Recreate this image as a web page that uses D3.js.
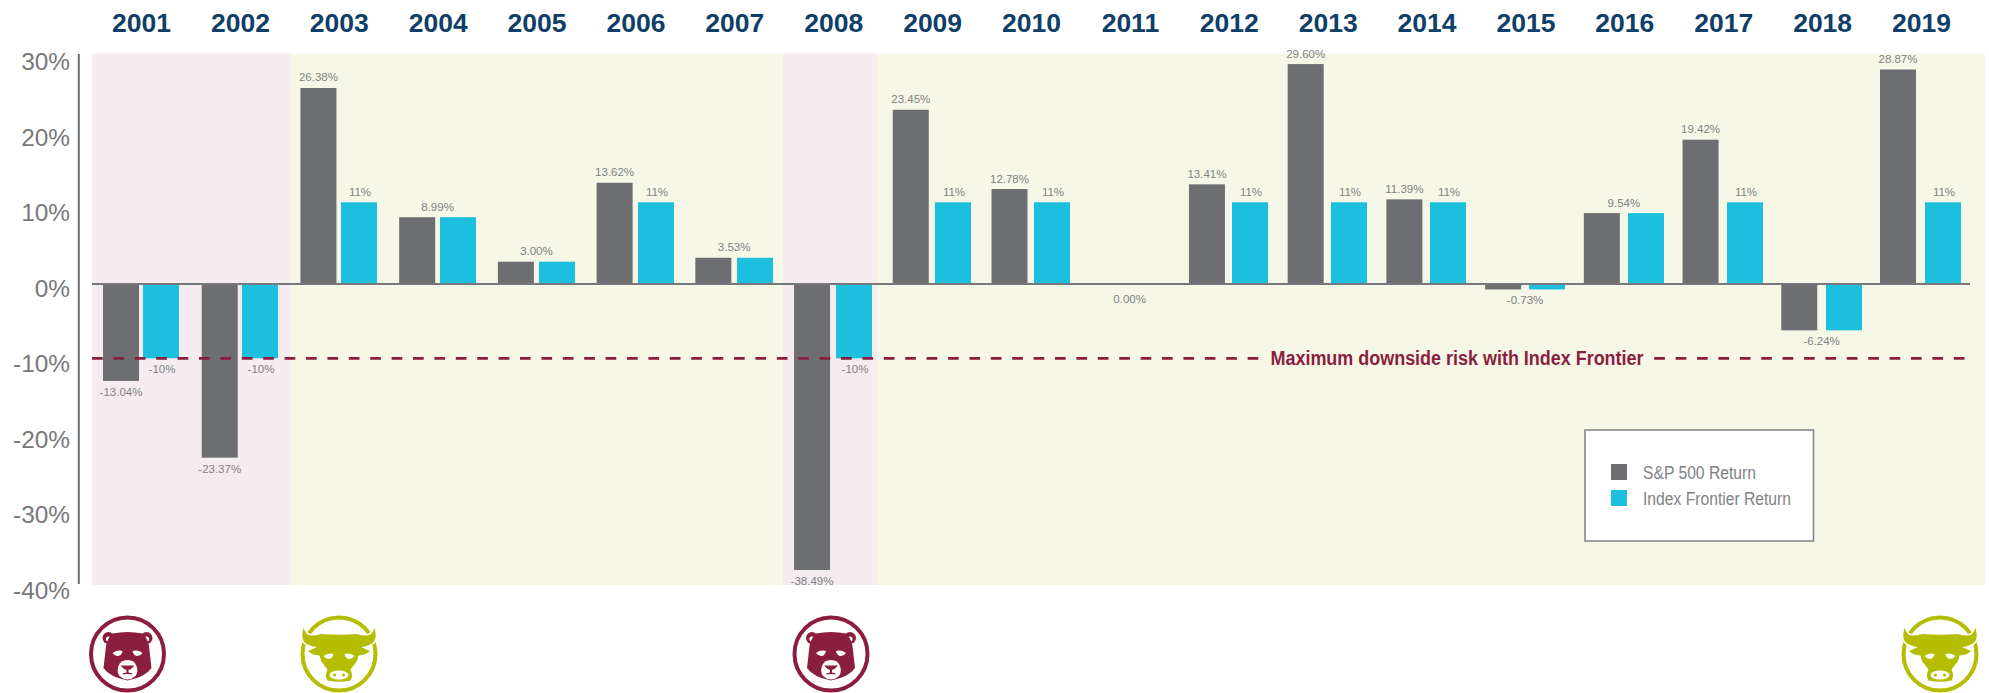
<!DOCTYPE html>
<html>
<head>
<meta charset="utf-8">
<script src="https://cdn.jsdelivr.net/npm/d3@7"></script>
<style>
  html, body { margin: 0; padding: 0; background: #fff; }
  svg { display: block; }
  text { font-family: "Liberation Sans", sans-serif; }
</style>
</head>
<body>
<svg id="chart"></svg>
<script>
const years = [2001, 2002, 2003, 2004, 2005, 2006, 2007, 2008, 2009, 2010, 2011, 2012, 2013, 2014, 2015, 2016, 2017, 2018, 2019];
const sp500 = [-13.04, -23.37, 26.38, 8.99, 3.00, 13.62, 3.53, -38.49, 23.45, 12.78, 0.00, 13.41, 29.60, 11.39, -0.73, 9.54, 19.42, -6.24, 28.87];
const frontier = [-10, -10, 11, 8.99, 3.00, 11, 3.53, -10, 11, 11, 0.00, 11, 11, 11, -0.73, 9.54, 11, -6.24, 11];
const yTicks = [30, 20, 10, 0, -10, -20, -30, -40];
const seriesNames = ["S&P 500 Return", "Index Frontier Return"];
const floorValue = -10;
const floorLabel = "Maximum downside risk with Index Frontier";
// first and last year of each market period
const periods = [
  { kind: "bear", from: 2001, to: 2002 },
  { kind: "bull", from: 2003, to: 2007 },
  { kind: "bear", from: 2008, to: 2008 },
  { kind: "bull", from: 2009, to: 2019 }
];

const width = 1989;
const height = 693;
const grey = "#6d6e71";
const cyan = "#1cbfde";
const maroon = "#8b1e3f";
const olive = "#b5bd00";
const labelGrey = "#808285";
const bandFill = { bear: "#f5ecef", bull: "#f6f7e6" };

const svg = d3.select("#chart").attr("width", width).attr("height", height);

const y = d3.scaleLinear().domain([-40, 30]).range([581.2, 61.1]);
// the printed percent labels sit on a slightly wider spacing than the bars
const yLabels = d3.scaleLinear().domain([-40, 30]).range([590.5, 62]);

const barWidth = 36;
const xGrey = d3.scaleBand().domain(years).range([103, 1880 + barWidth]).paddingInner(1 - barWidth / 98.72);
const xCyan = d3.scaleBand().domain(years).range([143, 1925 + barWidth]).paddingInner(1 - barWidth / 99);
const xYears = d3.scalePoint().domain(years).range([141, 1921]);

// background bands
const bandEdges = [92, 290, 783, 877, 1985];
svg.append("g")
  .selectAll("rect")
  .data(periods)
  .join("rect")
  .attr("x", (_, i) => bandEdges[i])
  .attr("y", 53.5)
  .attr("width", (_, i) => bandEdges[i + 1] - bandEdges[i])
  .attr("height", 531.5)
  .attr("fill", d => bandFill[d.kind]);

// year labels
const topAxis = svg.append("g")
  .attr("transform", "translate(0,32)")
  .call(d3.axisTop(xYears).tickSize(0).tickPadding(0).tickFormat(d3.format("d")));
topAxis.select(".domain").remove();
topAxis.selectAll("text")
  .attr("font-family", "Liberation Sans")
  .attr("font-size", 26.5)
  .attr("font-weight", 700)
  .attr("fill", "#0f3f68");

// y axis
const leftAxis = svg.append("g")
  .attr("transform", "translate(70,0)")
  .call(d3.axisLeft(yLabels).tickValues(yTicks).tickSize(0).tickPadding(0).tickFormat(d => d + "%"));
leftAxis.select(".domain").remove();
leftAxis.selectAll("text")
  .attr("font-family", "Liberation Sans")
  .attr("font-size", 24.4)
  .attr("fill", "#77787b");

svg.append("line")
  .attr("x1", 78.8).attr("x2", 78.8)
  .attr("y1", 54).attr("y2", 584)
  .attr("stroke", grey)
  .attr("stroke-width", 2);

// bars
const barRows = years.map((year, i) => ({ year, sp: sp500[i], fr: frontier[i] }));

svg.append("g")
  .selectAll("rect")
  .data(barRows)
  .join("rect")
  .attr("x", d => xGrey(d.year))
  .attr("y", d => y(Math.max(d.sp, 0)))
  .attr("width", xGrey.bandwidth())
  .attr("height", d => Math.abs(y(d.sp) - y(0)))
  .attr("fill", grey);

svg.append("g")
  .selectAll("rect")
  .data(barRows)
  .join("rect")
  .attr("x", d => xCyan(d.year))
  .attr("y", d => y(Math.max(d.fr, 0)))
  .attr("width", xCyan.bandwidth())
  .attr("height", d => Math.abs(y(d.fr) - y(0)))
  .attr("fill", cyan);

// zero line
svg.append("line")
  .attr("x1", 92).attr("x2", 1970)
  .attr("y1", y(0)).attr("y2", y(0))
  .attr("stroke", "#77787b")
  .attr("stroke-width", 2);

// value labels: one per bar, or one shared label where the two returns are equal
const labelY = v => (v > 0 ? y(v) - 6.5 : y(v) + (v === 0 ? 19 : 15));
const spText = v => v.toFixed(2) + "%";
const labelRows = [];
barRows.forEach(d => {
  const gc = xGrey(d.year) + barWidth / 2;
  const cc = xCyan(d.year) + barWidth / 2;
  if (d.sp === d.fr) {
    labelRows.push({ x: (gc + cc) / 2, y: labelY(d.sp), text: spText(d.sp) });
  } else {
    labelRows.push({ x: gc, y: labelY(d.sp), text: spText(d.sp) });
    labelRows.push({ x: cc + 1, y: labelY(d.fr), text: d.fr + "%" });
  }
});

svg.append("g")
  .selectAll("text")
  .data(labelRows)
  .join("text")
  .attr("x", d => d.x)
  .attr("y", d => d.y)
  .attr("text-anchor", "middle")
  .attr("font-size", 11.5)
  .attr("fill", labelGrey)
  .text(d => d.text);

// floor line with its label
svg.append("line")
  .attr("x1", 92).attr("x2", 1970)
  .attr("y1", y(floorValue)).attr("y2", y(floorValue))
  .attr("stroke", maroon)
  .attr("stroke-width", 2.7)
  .attr("stroke-dasharray", "10.7 10.7");

svg.append("rect")
  .attr("x", 1260).attr("y", y(floorValue) - 12)
  .attr("width", 392).attr("height", 24)
  .attr("fill", bandFill.bull);

svg.append("text")
  .attr("x", 1270.5)
  .attr("y", 364.5)
  .attr("font-size", 20)
  .attr("font-weight", 700)
  .attr("fill", maroon)
  .attr("textLength", 373)
  .attr("lengthAdjust", "spacingAndGlyphs")
  .text(floorLabel);

// legend
const legendWidths = [113, 148];
const legend = svg.append("g").attr("transform", "translate(1585,430)");
legend.append("rect")
  .attr("width", 228.5)
  .attr("height", 111)
  .attr("fill", "#fff")
  .attr("stroke", "#808285")
  .attr("stroke-width", 1.5);

const legendRow = legend.selectAll("g")
  .data(seriesNames)
  .join("g")
  .attr("transform", (_, i) => `translate(26,${34 + i * 26})`);
legendRow.append("rect")
  .attr("width", 16)
  .attr("height", 16)
  .attr("fill", (_, i) => (i === 0 ? grey : cyan));
legendRow.append("text")
  .attr("x", 32)
  .attr("y", 14.5)
  .attr("font-size", 18)
  .attr("fill", labelGrey)
  .attr("textLength", (_, i) => legendWidths[i])
  .attr("lengthAdjust", "spacingAndGlyphs")
  .text(d => d);

// bear and bull badges
const bearHead = "M-15,-20.5Q0,-23.5 15,-20.5Q20,-16 21.5,-8L24,14Q18,23 0,26.5Q-18,23 -24,14L-21.5,-8Q-20,-16 -15,-20.5Z";
const bearMuzzle = "M0,6Q7,6 9,12Q11,18 8,22Q4,25.5 0,25.5Q-4,25.5 -8,22Q-11,18 -9,12Q-7,6 0,6Z";
const bearNose = "M-7,11.5L7,11.5L3.5,15L1,16L1,18.5L5,19.5L4.5,20.5L0,20L-4.5,20.5L-5,19.5L-1,18.5L-1,16L-3.5,15Z";
const bullHead = "M-18,-20Q0,-18.5 18,-20Q28,-17 32,-20Q34,-22 35.5,-26Q39.5,-12 30,-9Q26,-7 22,-7L31,-3Q27,1 19.5,1.5L18,7L11.5,15.5Q14.5,22 11.5,26.5Q0,29 -11.5,26.5Q-14.5,22 -11.5,15.5L-18,7L-19.5,1.5Q-27,1 -31,-3L-22,-7Q-26,-7 -30,-9Q-39.5,-12 -35.5,-26Q-34,-22 -32,-20Q-28,-17 -18,-20Z";
const almond = "M-5,0Q0,-3.5 5,-2Q4,3 0,3Q-3,3 -5,0Z";

function drawBear(cx, cy) {
  const g = svg.append("g").attr("transform", `translate(${cx},${cy})`);
  g.append("circle").attr("r", 36.5).attr("fill", "#fff").attr("stroke", maroon).attr("stroke-width", 4);
  [-19, 19].forEach(ex => {
    g.append("circle").attr("cx", ex).attr("cy", -16).attr("r", 6).attr("fill", maroon);
    g.append("circle").attr("cx", ex).attr("cy", -15).attr("r", 2.6).attr("fill", "#fff");
  });
  g.append("path").attr("d", bearHead).attr("fill", maroon);
  g.append("path").attr("d", almond).attr("transform", "translate(-10,-1)").attr("fill", "#fff");
  g.append("path").attr("d", almond).attr("transform", "translate(10,-1) scale(-1,1)").attr("fill", "#fff");
  g.append("path").attr("d", bearMuzzle).attr("fill", "#fff");
  g.append("path").attr("d", bearNose).attr("fill", maroon);
}

function drawBull(cx, cy) {
  const g = svg.append("g").attr("transform", `translate(${cx},${cy})`);
  g.append("circle").attr("r", 36.5).attr("fill", "#fff").attr("stroke", olive).attr("stroke-width", 4);
  g.append("path").attr("d", bullHead)
    .attr("fill", olive)
    .attr("stroke", "#fff")
    .attr("stroke-width", 3)
    .attr("paint-order", "stroke");
  g.append("path").attr("d", almond).attr("transform", "translate(-10.5,2)").attr("fill", "#fff");
  g.append("path").attr("d", almond).attr("transform", "translate(10.5,2) scale(-1,1)").attr("fill", "#fff");
  g.append("ellipse").attr("cy", 21).attr("rx", 9.5).attr("ry", 4.5).attr("fill", "#fff");
  [-4.5, 4.5].forEach(nx => {
    g.append("circle").attr("cx", nx).attr("cy", 21).attr("r", 1.5).attr("fill", olive);
  });
}

drawBear(127.5, 654);
drawBull(339, 654);
drawBear(831, 654);
drawBull(1940, 654);
</script>
</body>
</html>
